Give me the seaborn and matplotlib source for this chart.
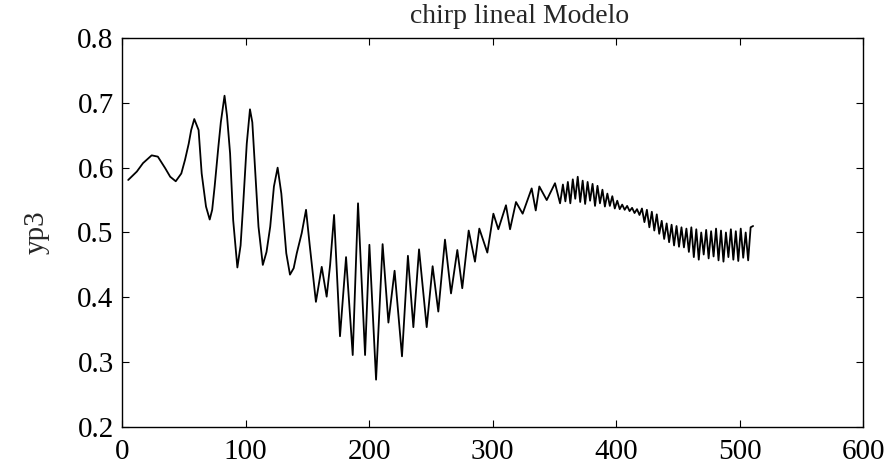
import matplotlib
matplotlib.use("Agg")
import matplotlib.pyplot as plt
import seaborn as sns
import pandas as pd

# Sample index (extrema and a few slope points)
x_vals = [5, 12, 17, 24, 29, 35, 39, 43.5, 48, 51, 54, 56, 58.5, 62, 64.5, 68, 71, 73, 75, 78,
          80, 83, 85, 87.5, 90, 93.4, 96, 98, 101, 103.6, 105.5, 107, 110.5, 114, 117, 120, 123,
          126, 129, 133, 136, 139, 141.5, 145.5, 149, 152, 157, 161.7, 165.7, 168.5, 171.7,
          176.5, 181.4, 186.8, 191.1, 196.8, 200.3, 205.7, 211, 215.7, 220.7, 226.7, 231.5,
          235.9, 240.5, 246.7, 251.5, 256.1, 261.5, 266.4, 271.5, 275.5, 280.7, 285.8, 289.3,
          295.8, 300.7, 304.7, 310.9, 314.2, 319, 324.4, 331.7, 335, 337.9, 343.9, 350.6, 354.7,
          357, 359, 361, 363, 365, 367, 369, 371, 373, 375, 377, 379, 381, 383, 385, 387, 389,
          391, 393, 395, 397, 399, 401, 403, 405, 407, 409, 411, 413, 415, 417, 419, 421, 423,
          425, 427, 429, 431, 433, 435, 437, 439, 441, 443, 445, 447, 449, 451, 453, 455, 457,
          459, 461, 463, 465, 467, 469, 471, 473, 475, 477, 479, 481, 483, 485, 487, 489, 491,
          493, 495, 497, 499, 501, 503, 505, 507, 509, 511]

# yp3 values
yp3_vals = [0.581, 0.594, 0.607, 0.619, 0.617, 0.599, 0.586, 0.579, 0.591, 0.612, 0.637, 0.658,
            0.675, 0.658, 0.591, 0.540, 0.520, 0.535, 0.571, 0.632, 0.670, 0.711, 0.680, 0.622,
            0.519, 0.446, 0.480, 0.540, 0.637, 0.690, 0.670, 0.622, 0.509, 0.450, 0.470, 0.509,
            0.571, 0.600, 0.560, 0.468, 0.435, 0.445, 0.468, 0.499, 0.535, 0.480, 0.393, 0.447,
            0.401, 0.450, 0.527, 0.340, 0.462, 0.311, 0.545, 0.311, 0.481, 0.273, 0.482, 0.361,
            0.441, 0.309, 0.464, 0.354, 0.474, 0.354, 0.448, 0.378, 0.489, 0.406, 0.473, 0.414,
            0.503, 0.455, 0.506, 0.469, 0.529, 0.505, 0.542, 0.505, 0.547, 0.529, 0.568, 0.534,
            0.571, 0.550, 0.576, 0.545,
            0.574, 0.548, 0.578, 0.545, 0.582, 0.552, 0.586, 0.547, 0.580, 0.544, 0.578, 0.549,
            0.575, 0.541, 0.572, 0.545, 0.566, 0.540, 0.560, 0.541, 0.556, 0.537, 0.549, 0.536,
            0.543, 0.535, 0.541, 0.533, 0.538, 0.530, 0.536, 0.527, 0.537, 0.516, 0.535, 0.508,
            0.532, 0.503, 0.528, 0.498, 0.518, 0.490, 0.514, 0.485, 0.512, 0.480, 0.510, 0.478,
            0.508, 0.477, 0.506, 0.470, 0.508, 0.462, 0.505, 0.458, 0.500, 0.466, 0.504, 0.460,
            0.502, 0.463, 0.506, 0.457, 0.503, 0.455, 0.500, 0.462, 0.505, 0.458, 0.502, 0.456,
            0.506, 0.461, 0.500, 0.457, 0.508, 0.510]

x_ticks = [0, 100, 200, 300, 400, 500, 600]
y_ticks = [0.2, 0.3, 0.4, 0.5, 0.6, 0.7, 0.8]
y_tick_labels = ["0.2", "0.3", "0.4", "0.5", "0.6", "0.7", "0.8"]

df = pd.DataFrame({"n": x_vals, "yp3": yp3_vals})

sns.set_style("ticks")
plt.rcParams["font.family"] = ["Liberation Serif", "DejaVu Serif"]

fig = plt.figure(figsize=(8.92, 4.75), dpi=100)
ax = fig.add_axes([0.1368, 0.1011, 0.9675 - 0.1368, 0.92 - 0.1011])

sns.lineplot(data=df, x="n", y="yp3", sort=False, estimator=None,
             color="black", linewidth=1.3, ax=ax)

ax.set_xlim(0, 600)
ax.set_ylim(0.2, 0.8)
ax.set_xticks(x_ticks)
ax.set_xticklabels([str(t) for t in x_ticks])
ax.set_yticks(y_ticks)
ax.set_yticklabels(y_tick_labels)
ax.tick_params(direction="in", length=5, width=0.8, top=True, right=True,
               labelsize=21, colors="black", pad=6)
ax.tick_params(axis="x", pad=9)
for s in ax.spines.values():
    s.set_visible(True)
    s.set_color("black")
    s.set_linewidth(1.0)

ax.set_xlabel("")
ax.set_ylabel("yp3", fontsize=21, labelpad=20)
ax.set_title("chirp lineal Modelo", fontsize=20, pad=11, x=0.537)

fig.savefig("out.png", dpi=100, facecolor="white")
